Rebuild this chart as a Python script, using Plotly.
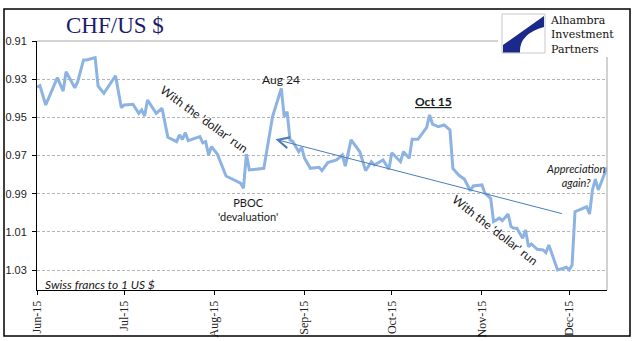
import plotly.graph_objects as go

# ---------------- data ----------------
dates = [
    "2015-06-01", "2015-06-02", "2015-06-04", "2015-06-08", "2015-06-10", "2015-06-11",
    "2015-06-14", "2015-06-15", "2015-06-17", "2015-06-18", "2015-06-21", "2015-06-22",
    "2015-06-24", "2015-06-28", "2015-06-30", "2015-07-01", "2015-07-04", "2015-07-06",
    "2015-07-07", "2015-07-08", "2015-07-09", "2015-07-12", "2015-07-14", "2015-07-16",
    "2015-07-19", "2015-07-20", "2015-07-21", "2015-07-22", "2015-07-23", "2015-07-27",
    "2015-07-28", "2015-07-29", "2015-07-30", "2015-07-31", "2015-08-02", "2015-08-05",
    "2015-08-10", "2015-08-11", "2015-08-12", "2015-08-13", "2015-08-18", "2015-08-21",
    "2015-08-24", "2015-08-25", "2015-08-26", "2015-08-27", "2015-08-28", "2015-08-30",
    "2015-08-31", "2015-09-01", "2015-09-03", "2015-09-06", "2015-09-07", "2015-09-09",
    "2015-09-12", "2015-09-14", "2015-09-15", "2015-09-16", "2015-09-17", "2015-09-20",
    "2015-09-22", "2015-09-24", "2015-09-25", "2015-09-28", "2015-09-30", "2015-10-01",
    "2015-10-04", "2015-10-05", "2015-10-07", "2015-10-08", "2015-10-10", "2015-10-13",
    "2015-10-14", "2015-10-15", "2015-10-17", "2015-10-19", "2015-10-21", "2015-10-22",
    "2015-10-24", "2015-10-26", "2015-10-27", "2015-10-28", "2015-10-29", "2015-11-01",
    "2015-11-02", "2015-11-04", "2015-11-05", "2015-11-07", "2015-11-08", "2015-11-10",
    "2015-11-11", "2015-11-12", "2015-11-13", "2015-11-15", "2015-11-16", "2015-11-17",
    "2015-11-18", "2015-11-20", "2015-11-22", "2015-11-23", "2015-11-24", "2015-11-25",
    "2015-11-27", "2015-11-29", "2015-11-30", "2015-12-01", "2015-12-02", "2015-12-03",
    "2015-12-05", "2015-12-07", "2015-12-08", "2015-12-09", "2015-12-10", "2015-12-11",
    "2015-12-14",
]
chf_per_usd = [
    0.9342, 0.9334, 0.9435, 0.9292, 0.9362, 0.9261,
    0.9345, 0.9313, 0.9199, 0.9199, 0.9187, 0.9336,
    0.9374, 0.9282, 0.9449, 0.9435, 0.9431, 0.9479,
    0.9461, 0.9493, 0.9409, 0.9479, 0.9452, 0.9604,
    0.9627, 0.9592, 0.9615, 0.9580, 0.9622, 0.9601,
    0.9633, 0.9627, 0.9697, 0.9653, 0.9692, 0.9807,
    0.9845, 0.9871, 0.9692, 0.9775, 0.9767, 0.9496,
    0.9348, 0.9496, 0.9470, 0.9618, 0.9627, 0.9680,
    0.9657, 0.9714, 0.9767, 0.9761, 0.9779, 0.9737,
    0.9723, 0.9697, 0.9755, 0.9685, 0.9618, 0.9680,
    0.9779, 0.9732, 0.9749, 0.9723, 0.9772, 0.9685,
    0.9732, 0.9680, 0.9714, 0.9615, 0.9615, 0.9552,
    0.9487, 0.9535, 0.9549, 0.9540, 0.9566, 0.9767,
    0.9802, 0.9824, 0.9854, 0.9884, 0.9859, 0.9854,
    0.9897, 0.9924, 1.0046, 1.0028, 1.0041, 1.0006,
    1.0072, 1.0081, 1.0081, 1.0133, 1.0090, 1.0177,
    1.0163, 1.0191, 1.0194, 1.0208, 1.0168, 1.0212,
    1.0299, 1.0290, 1.0285, 1.0299, 1.0273, 0.9994,
    0.9981, 0.9968, 1.0006, 0.9880, 0.9824, 0.9880,
    0.9761,
]
x_tick_vals = ["2015-06-01", "2015-07-01", "2015-08-01", "2015-09-01",
               "2015-10-01", "2015-11-01", "2015-12-01"]
x_tick_text = ["Jun-15", "Jul-15", "Aug-15", "Sep-15", "Oct-15", "Nov-15", "Dec-15"]
y_tick_vals = [0.91, 0.93, 0.95, 0.97, 0.99, 1.01, 1.03]
y_tick_text = ["0.91", "0.93", "0.95", "0.97", "0.99", "1.01", "1.03"]

trend_start = ("2015-11-29", 1.0006)   # tail of the trend arrow
trend_end = ("2015-08-22", 0.9615)     # head of the trend arrow

# ---------------- layout helpers (pixel -> paper) ----------------
W, H = 641, 341
L, R, T, B = 37, 607, 41, 290


def px(x):
    return (x - L) / (R - L)


def py(y):
    return (B - y) / (B - T)


fig = go.Figure()
fig.add_trace(go.Scatter(
    x=dates, y=chf_per_usd, mode="lines",
    line=dict(color="#8DB3E2", width=3),
    hoverinfo="skip", showlegend=False,
))

SANS = "Lato, Liberation Sans, sans-serif"
SERIF = "Liberation Serif, Times New Roman, serif"

fig.update_layout(
    width=W, height=H,
    margin=dict(l=L, r=W - R, t=T, b=H - B, pad=0, autoexpand=False),
    paper_bgcolor="white", plot_bgcolor="white",
    xaxis=dict(
        type="date", range=["2015-06-01", "2015-12-14"],
        tickvals=x_tick_vals, ticktext=x_tick_text, tickangle=-90,
        tickfont=dict(family=SERIF, size=12, color="#222222"),
        showline=True, linecolor="black", linewidth=1,
        ticks="outside", ticklen=4, tickcolor="black", tickwidth=1,
        showgrid=False, zeroline=False, ticklabelstandoff=1, automargin=False,
    ),
    yaxis=dict(
        range=[1.0404, 0.91],
        tickvals=y_tick_vals, ticktext=y_tick_text,
        tickfont=dict(family="Liberation Sans, Arial, sans-serif", size=11, color="#222222"),
        showline=True, linecolor="black", linewidth=1,
        ticks="outside", ticklen=4, tickcolor="black", tickwidth=1,
        showgrid=True, gridcolor="#B4B4B4", gridwidth=1, griddash="3px,2px",
        zeroline=False, ticklabelstandoff=3, automargin=False,
    ),
)

shapes = []
# outer border
shapes.append(dict(type="rect", xref="paper", yref="paper",
                   x0=px(4), x1=px(630), y0=py(336), y1=py(9),
                   line=dict(color="black", width=1.5), fillcolor="rgba(0,0,0,0)", layer="above"))
# hide top grid line where the logo sits
shapes.append(dict(type="rect", xref="paper", yref="paper",
                   x0=px(498.5), x1=px(626), y0=py(44), y1=py(38),
                   line=dict(width=0), fillcolor="white", layer="above"))
# plot-area top and right gray borders
shapes.append(dict(type="line", xref="paper", yref="paper",
                   x0=0, x1=px(498), y0=1, y1=1,
                   line=dict(color="#A6A6A6", width=1), layer="above"))
shapes.append(dict(type="line", xref="paper", yref="paper",
                   x0=1, x1=1, y0=0, y1=py(57),
                   line=dict(color="#A6A6A6", width=1), layer="above"))
# logo box
shapes.append(dict(type="rect", xref="paper", yref="paper",
                   x0=px(502), x1=px(545), y0=py(53), y1=py(14),
                   line=dict(color="#C8C8C8", width=1), fillcolor="white", layer="above"))
path = "M {:.5f},{:.5f} L {:.5f},{:.5f} Q {:.5f},{:.5f} {:.5f},{:.5f} L {:.5f},{:.5f} L {:.5f},{:.5f} Z".format(
    px(544), py(16), px(544), py(27), px(519), py(34), px(520), py(52.5),
    px(503), py(52.5), px(503), py(45))
shapes.append(dict(type="path", xref="paper", yref="paper", path=path,
                   line=dict(width=0), fillcolor="#1B2A8A", layer="above"))
fig.update_layout(shapes=shapes)

ann = []


def txt(x, y, text, size=12, family=SANS, color="#1A1A1A", angle=0, xanchor="center", align="center"):
    ann.append(dict(x=px(x), y=py(y), xref="paper", yref="paper", text=text,
                    showarrow=False, textangle=angle, xanchor=xanchor, yanchor="middle",
                    align=align, font=dict(family=family, size=size, color=color)))


txt(64, 26, "CHF/US $", size=23, family=SERIF, color="#1B1B6B", xanchor="left")
txt(548, 35, "Alhambra<br>Investment<br>Partners", size=11, family="DejaVu Serif, serif",
    color="#111111", xanchor="left", align="left")
txt(281, 79, "Aug 24", size=12)
txt(434, 101, "<b><u>Oct 15</u></b>", size=12)
txt(205, 119, "With the 'dollar' run", size=12, angle=36)
txt(496, 230, "With the 'dollar' run", size=12, angle=38)
txt(248, 209, "PBOC<br>'devaluation'", size=11)
txt(576, 175, "<i>Appreciation<br>again?</i>", size=11)
txt(43, 284, "<i>Swiss francs to 1 US $</i>", size=12, xanchor="left")

ann.append(dict(
    x=trend_end[0], y=trend_end[1], xref="x", yref="y",
    ax=trend_start[0], ay=trend_start[1], axref="x", ayref="y",
    text="", showarrow=True, arrowhead=5, arrowsize=2.2, arrowwidth=1,
    arrowcolor="#4A7EBB", standoff=0, startstandoff=0,
))
fig.update_layout(annotations=ann)

fig.write_html("out.html")
